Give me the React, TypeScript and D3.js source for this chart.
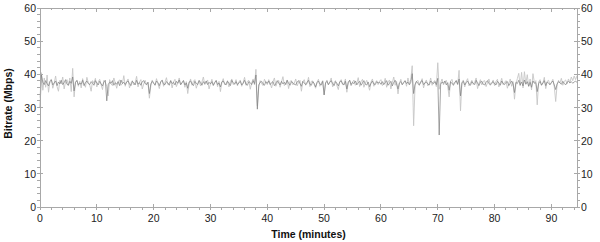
import React, { useEffect, useRef } from "react";
import * as d3 from "d3";

// Time step between samples (minutes)
const STEP = 0.25;

// Per-interval bitrate (Mbps), light/raw series
const rawBitrate = [
  33, 40.5, 35.2, 38.9, 36.1, 39.8, 34.6, 37.9, 38.6, 35.8, 37.4, 39.5, 36.3, 34.9, 38.2, 37.1, 39.2, 35.6, 37.8, 38.4,
  36.7, 38.9, 34.8, 41.8, 33.2, 37.6, 38.3, 36.4, 37.9, 35.9, 38.7, 37.2, 36.1, 39.1, 37.5, 36.8, 34.9, 38.1, 37.3, 38.8,
  36.2, 37.7, 38.5, 36.9, 35.4, 38.2, 37.6, 36.3, 33.5, 38.4, 37.1, 36.6, 38.9, 37.4, 35.8, 37.9, 38.3, 36.7, 37.2, 39.6,
  36.4, 37.8, 38.6, 35.9, 37.3, 38.1, 36.8, 37.5, 39.4, 36.2, 37.7, 38.4, 35.6, 37.1, 38.2, 36.9, 37.6, 32.8, 36.5, 38.3,
  37.4, 36.6, 38.7, 37.2, 35.7, 37.9, 38.3, 36.4, 37.6, 39, 36.9, 37.3, 38.1, 35.9, 37.7, 38.5, 36.3, 37.4, 38.9, 36.8,
  37.5, 38.2, 36.1, 37.8, 34.2, 37.3, 38.6, 36.7, 37.9, 38.4, 35.8, 37.2, 38, 36.5, 37.7, 39.2, 36.9, 37.4, 38.3, 35.6,
  37.1, 38.5, 36.6, 37.6, 38.2, 36.3, 37.9, 34.8, 37.5, 38.7, 36.8, 37.3, 38.1, 36.2, 37.8, 38.6, 36.9, 37.2, 38.4, 36.5,
  37.7, 38.3, 36.4, 37.5, 39.1, 36.7, 37.9, 38.2, 35.5, 37.4, 38.6, 36.8, 41.5, 30.5, 36.3, 38.1, 37.2, 36.6, 38.5, 37.6,
  36.9, 38.4, 37.3, 35.9, 37.8, 38.9, 36.4, 37.5, 38.2, 36.1, 37.7, 39.3, 36.6, 37.4, 38.3, 35.7, 37.9, 38.1, 36.8, 37.3,
  38.6, 36.5, 37.6, 38.2, 34.9, 37.8, 38.4, 36.7, 37.2, 39.1, 36.3, 37.9, 38, 36.9, 35.8, 37.6, 38.5, 36.4, 37.3, 38.1,
  33.8, 37.4, 38.3, 36.8, 37.7, 38.9, 36.2, 37.5, 38.1, 36.6, 35.4, 37.9, 38.4, 36.9, 37.2, 38.6, 34.6, 37.8, 38.2, 36.5,
  37.6, 38.3, 36.7, 37.4, 39, 36.3, 37.8, 38.5, 36.1, 37.3, 38.2, 36.8, 35.2, 37.7, 38.6, 36.4, 37.5, 38.1, 36.9, 37.9,
  38.4, 36.6, 37.2, 38.8, 36.1, 37.7, 38.3, 35.6, 37.5, 39.2, 36.7, 37.9, 34.1, 37.3, 38.5, 36.8, 37.6, 38.2, 36.4, 38.9,
  37.1, 38.4, 42.6, 24.5, 36.6, 37.8, 38.2, 36.9, 37.4, 38.7, 35.9, 37.6, 38.3, 36.5, 37.2, 38.9, 36.7, 37.8, 38.1, 36.3,
  43.5, 35.5, 37.4, 38.6, 36.8, 37.7, 38.2, 36.4, 33.2, 37.9, 38.5, 36.6, 37.3, 38.1, 36.9, 41.2, 29, 37.6, 38.3, 36.2,
  37.8, 38.7, 36.5, 37.4, 38.2, 36.9, 37.6, 38.9, 35.7, 37.3, 38.4, 36.8, 37.9, 38.1, 36.3, 37.5, 38.6, 36.7, 37.2, 38.3,
  36.6, 37.9, 38.5, 36.2, 37.4, 38.8, 36.9, 37.6, 38.1, 35.8, 37.3, 38.6, 36.4, 37.8, 32.5, 37.1, 38.7, 40.3, 36.5, 40.6,
  35.9, 40.8, 37.2, 39.9, 36.4, 38.6, 35.3, 40.2, 37.5, 38.1, 30.8, 37.8, 38.4, 36.6, 37.3, 39.1, 35.7, 37.9, 38.2, 36.8,
  37.6, 38.5, 36.3, 31.8, 36.9, 38.2, 37.4, 38.8, 36.7, 37.9, 38.3, 37.1, 38.6, 37.5, 39.2, 38.1, 39.5, 38.4, 39.6,
];

// Averaged bitrate (Mbps), dark series
const avgBitrate = [
  30, 39.8, 37.6, 36.9, 38.1, 37.2, 36.5, 37.8, 38.3, 36.8, 37.4, 38, 36.6, 37.7, 37.1, 38.2, 36.9, 37.5, 38.4, 37,
  36.7, 37.9, 37.3, 39.2, 35, 37.6, 38.1, 36.8, 37.4, 37, 38.2, 36.6, 37.5, 38, 37.2, 36.9, 37.8, 37.3, 36.7, 38.1,
  37.4, 36.8, 37.9, 37.1, 36.5, 37.7, 38.2, 32, 36.9, 37.6, 37.3, 38.1, 36.7, 37.5, 37, 37.8, 36.6, 38.3, 37.2, 37.6,
  36.9, 37.7, 38, 37.1, 36.6, 37.9, 37.4, 36.8, 38.2, 37, 37.5, 36.7, 37.8, 38.1, 37.2, 36.9, 37.6, 34.2, 37.1, 37.9,
  37.3, 36.8, 38, 37.5, 36.6, 37.7, 38.2, 37, 36.9, 37.8, 37.4, 36.7, 38.1, 37.2, 37.6, 36.8, 37.9, 37.3, 38.3, 36.9,
  37.5, 38.1, 36.8, 37.4, 35.8, 37.7, 38, 37.1, 36.6, 37.9, 37.3, 36.9, 38.2, 37.5, 36.7, 37.8, 37.2, 38, 36.9, 37.6,
  37.1, 37.8, 36.7, 37.5, 38.1, 36.9, 37.4, 36.2, 37.7, 38, 37.2, 36.8, 37.9, 37.3, 36.6, 38.2, 37.5, 37, 37.8, 36.9,
  37.4, 37.9, 36.8, 37.3, 38.2, 37, 36.7, 37.8, 37.5, 36.9, 38.1, 37.2, 39.8, 29.5, 36.8, 37.6, 37.9, 37.1, 36.7, 37.8,
  37.3, 38, 36.9, 37.5, 37.8, 36.6, 37.2, 38.1, 37.4, 36.8, 37.9, 37.1, 37.6, 36.9, 38.2, 37.3, 36.7, 37.8, 37.5, 37,
  36.8, 37.7, 38.1, 37.2, 36.4, 37.9, 37.4, 36.9, 37.6, 38.2, 37, 36.7, 37.8, 37.3, 36.2, 37.5, 38, 37.1, 36.8, 37.9,
  33.8, 37.4, 37.9, 36.9, 37.6, 38.1, 37.2, 36.6, 37.8, 37.3, 36.5, 37.7, 38, 37.1, 36.8, 37.9, 35.6, 37.5, 38.2, 36.9,
  37.6, 37.2, 38, 36.8, 37.5, 37.9, 36.7, 37.4, 38.1, 37, 36.8, 37.7, 36.3, 37.3, 38, 37.1, 36.9, 37.8, 37.4, 37.6,
  37, 37.8, 36.9, 37.5, 38.1, 36.7, 37.3, 37.9, 36.5, 37.6, 38.2, 37.1, 35.6, 37.4, 37.8, 36.9, 37.5, 38, 37.2, 37.7,
  36.8, 37.6, 40.2, 34.2, 37, 37.9, 37.3, 36.7, 37.8, 38.1, 36.9, 37.4, 37.7, 37.1, 36.8, 38, 37.5, 37.2, 37.8, 36.9,
  38.8, 21.7, 36.9, 37.7, 37.3, 38, 36.8, 37.5, 35.2, 37.8, 37.2, 36.9, 37.6, 38.1, 37, 38.6, 33.5, 37.4, 37.9, 36.8,
  37.5, 38, 37.1, 36.7, 37.8, 37.3, 36.9, 38.2, 37.4, 36.6, 37.7, 37.9, 37, 36.8, 37.6, 38.1, 37.2, 36.9, 37.5, 37.8,
  37.1, 36.8, 37.9, 37.4, 36.7, 38, 37.2, 36.9, 37.6, 37.8, 36.6, 37.3, 38, 37.1, 34.5, 37.6, 37.2, 38.2, 36.8, 37.7,
  36.5, 38.3, 37, 37.8, 36.4, 37.6, 36.1, 38, 37.3, 37.5, 34.8, 37.2, 37.9, 36.8, 37.4, 38.1, 36.6, 37.7, 37.3, 36.9,
  37.5, 38, 36.8, 35.4, 37.1, 37.8, 37.4, 37, 37.9, 37.3, 36.8, 37.6, 37.9, 37.4, 37.8, 37.3, 37.7, 37.9, 37.6,
];

const xTicks = [0, 10, 20, 30, 40, 50, 60, 70, 80, 90];
const yTicks = [0, 10, 20, 30, 40, 50, 60];
const X_MAX = 94.5;
const X_LABEL = "Time (minutes)";
const Y_LABEL = "Bitrate (Mbps)";

export default function App() {
  const ref = useRef<SVGSVGElement>(null);

  useEffect(() => {
    const svg = d3.select(ref.current);
    svg.selectAll("*").remove();
    const left = 40, right = 577, top = 8, bottom = 207;
    const x = d3.scaleLinear().domain([0, X_MAX]).range([left, right]);
    const y = d3.scaleLinear().domain([0, 60]).range([bottom, top]);
    const axisColor = "#a8a8a8";
    const font = "Liberation Sans, Arial, sans-serif";

    const g = svg.append("g");

    const line = d3
      .line<number>()
      .x((_, i) => x(i * STEP))
      .y((d) => y(d));

    g.append("path")
      .datum(rawBitrate)
      .attr("d", line)
      .attr("fill", "none")
      .attr("stroke", "#c6c6c6")
      .attr("stroke-width", 0.9);

    g.append("path")
      .datum(avgBitrate)
      .attr("d", line)
      .attr("fill", "none")
      .attr("stroke", "#7e7e7e")
      .attr("stroke-width", 0.7);

    const frame = svg.append("g").attr("stroke", axisColor).attr("fill", "none").attr("shape-rendering", "crispEdges");
    frame.append("rect").attr("x", left).attr("y", top).attr("width", right - left).attr("height", bottom - top);

    const xMinor = d3.range(0, X_MAX + 0.001, 2);
    xMinor.forEach((v) => {
      const major = v % 10 === 0;
      frame.append("line").attr("x1", x(v)).attr("x2", x(v)).attr("y1", major ? bottom - 3 : bottom).attr("y2", bottom + 3);
      frame.append("line").attr("x1", x(v)).attr("x2", x(v)).attr("y1", top).attr("y2", top + (major ? 4 : 2));
    });
    const yMinor = d3.range(0, 60.001, 2);
    yMinor.forEach((v) => {
      const major = v % 10 === 0;
      frame.append("line").attr("x1", left - 3).attr("x2", left + (major ? 3 : 0)).attr("y1", y(v)).attr("y2", y(v));
      frame.append("line").attr("x1", right - (major ? 3 : 0)).attr("x2", right + 3).attr("y1", y(v)).attr("y2", y(v));
    });

    const labels = svg.append("g").attr("font-family", font).attr("font-size", 10.5).attr("fill", "#222");
    xTicks.forEach((v) => {
      labels.append("text").attr("x", x(v)).attr("y", bottom + 15).attr("text-anchor", "middle").text(String(v));
    });
    yTicks.forEach((v) => {
      labels.append("text").attr("x", left - 4).attr("y", y(v) + 4).attr("text-anchor", "end").text(String(v));
      labels.append("text").attr("x", right + 4).attr("y", y(v) + 4).attr("text-anchor", "start").text(String(v));
    });

    svg.append("text")
      .attr("x", (left + right) / 2)
      .attr("y", 238)
      .attr("text-anchor", "middle")
      .attr("font-family", font)
      .attr("font-weight", "bold")
      .attr("font-size", 10.5)
      .attr("fill", "#111")
      .text(X_LABEL);

    svg.append("text")
      .attr("transform", `translate(12,${(top + bottom) / 2 - 4}) rotate(-90)`)
      .attr("text-anchor", "middle")
      .attr("font-family", font)
      .attr("font-weight", "bold")
      .attr("font-size", 10.5)
      .attr("fill", "#111")
      .text(Y_LABEL);
  }, []);

  return (
    <svg
      ref={ref}
      width={600}
      height={242}
      style={{ position: "absolute", left: 0, top: 0, background: "#fff" }}
    />
  );
}
